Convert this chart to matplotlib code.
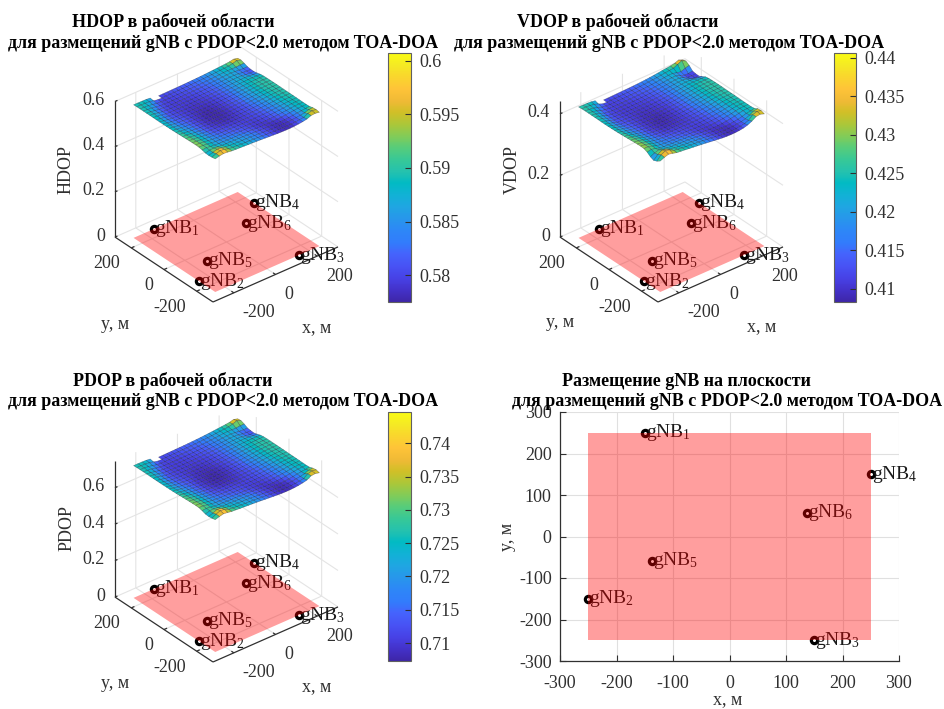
import numpy as np
import matplotlib
matplotlib.use("Agg")
import matplotlib.pyplot as plt
from matplotlib.colors import LinearSegmentedColormap, Normalize
from matplotlib.cm import ScalarMappable
from matplotlib.patches import Rectangle
from mpl_toolkits.mplot3d import art3d, proj3d

plt.rcParams['font.family'] = ['Liberation Serif', 'DejaVu Serif']
plt.rcParams['mathtext.fontset'] = 'custom'
plt.rcParams['mathtext.rm'] = 'Liberation Serif'
plt.rcParams['mathtext.default'] = 'rm'
plt.rcParams['grid.color'] = '#e4e4e4'
plt.rcParams['grid.linewidth'] = 0.8

W, H = 944, 709
n = np.nan

# grid of the working area
grid_x = list(range(-250, 251, 20))
grid_y = list(range(250, -251, -20))

# HDOP = 0.57 + value * 1e-4, rows follow grid_y, columns follow grid_x
hdop_rows = [
[190,190,188,182,165,n,102,104,107,110,113,116,119,123,128,134,141,150,160,172,184,196,208,224,262,222],
[196,194,188,172,140,105,98,100,103,106,109,112,116,120,125,131,138,147,158,170,182,194,206,240,292,236],
[198,190,178,150,118,102,97,98,100,102,105,108,111,115,120,126,133,142,153,165,176,182,178,175,190,190],
[198,186,165,134,110,99,96,96,97,99,101,104,107,111,116,122,129,138,149,160,170,172,160,140,128,130],
[198,184,155,124,106,97,95,94,95,96,98,100,103,107,112,118,126,135,146,157,166,168,155,128,112,112],
[198,182,148,118,104,97,94,93,93,94,95,97,100,104,109,115,124,134,146,157,166,170,160,135,115,108],
[196,178,142,114,103,97,94,92,91,91,92,94,97,101,106,113,122,133,146,158,168,175,175,165,150,140],
[194,172,138,112,104,98,94,91,89,88,89,91,94,98,104,111,120,131,146,159,170,180,186,186,184,180],
[194,168,136,114,106,100,95,90,87,86,86,88,91,96,102,109,118,130,145,158,170,182,190,194,196,195],
[195,168,138,118,110,103,95,89,85,83,83,85,89,94,100,108,117,129,144,158,170,183,192,198,200,198],
[196,170,142,124,114,105,95,88,83,81,80,82,86,92,99,107,116,128,143,157,170,183,192,198,200,200],
[198,172,148,130,118,106,95,87,82,79,78,80,84,90,98,106,115,127,142,156,168,182,192,198,200,200],
[200,176,154,136,122,108,96,87,82,78,77,79,83,89,97,105,113,125,140,154,166,180,190,197,200,200],
[205,184,162,142,126,110,97,88,82,79,78,80,84,90,97,104,112,123,137,151,163,178,188,196,198,198],
[210,192,170,150,130,112,99,90,84,81,80,81,85,91,97,103,110,120,133,147,160,175,186,194,197,197],
[216,200,180,158,135,116,103,94,88,85,84,84,87,91,96,102,108,117,129,142,155,170,183,192,196,196],
[222,208,188,165,140,121,108,100,94,91,90,89,90,93,97,101,106,114,125,137,150,165,180,190,195,195],
[228,214,194,170,146,127,115,107,102,99,97,95,94,95,97,100,105,112,122,133,146,160,176,187,193,193],
[232,220,198,174,150,133,123,116,111,107,103,100,97,96,96,98,103,109,118,129,142,156,172,184,191,191],
[236,224,200,176,154,140,131,124,119,115,110,105,100,96,94,95,99,105,114,125,138,152,168,182,189,190],
[230,226,200,176,156,146,139,133,128,123,117,110,103,96,91,91,95,101,110,121,134,148,165,180,188,188],
[200,218,194,172,160,155,150,146,142,136,128,120,110,100,92,87,86,90,98,110,124,140,158,176,184,186],
[160,205,215,190,178,170,165,160,155,150,142,132,120,108,98,90,85,83,85,92,105,122,145,165,178,195],
[150,200,262,240,200,186,178,170,163,156,148,137,125,112,100,90,84,81,83,90,102,120,140,165,225,235],
[165,240,295,275,215,198,188,178,170,162,152,142,130,116,104,92,85,80,82,88,100,116,140,235,270,250],
[190,235,265,245,218,208,198,188,178,168,158,146,134,120,108,96,88,84,85,92,108,130,165,240,255,222],
]

# VDOP = 0.40 + value * 1e-4
vdop_rows = [
[250,250,247,239,215,n,121,123,127,132,136,140,144,150,157,165,175,187,201,218,235,251,268,292,345,290],
[258,256,247,225,180,125,115,118,122,125,130,134,139,145,153,161,171,184,198,215,232,248,265,330,392,320],
[261,250,233,187,143,121,113,115,118,121,125,129,133,139,146,154,164,176,191,208,223,225,190,160,215,250],
[261,245,215,160,132,116,112,112,113,116,119,123,127,132,139,147,157,170,185,201,215,215,170,122,112,140],
[261,242,201,146,125,113,111,109,111,112,115,118,122,127,134,143,154,167,182,198,211,212,172,118,105,118],
[261,239,190,138,122,113,109,108,108,109,111,113,118,123,130,138,150,164,182,198,211,218,195,150,118,115],
[258,233,182,134,121,113,109,107,106,106,107,109,113,119,126,136,149,164,182,200,214,223,222,205,185,170],
[255,225,176,132,122,115,109,106,104,102,104,106,109,115,123,133,145,161,182,201,215,229,236,238,235,230],
[255,220,173,134,125,118,111,104,101,100,100,103,106,111,119,129,142,160,181,199,215,232,243,249,251,250],
[256,220,176,140,129,121,111,104,99,97,97,99,104,109,117,128,141,158,180,199,215,233,246,254,257,254],
[258,222,182,148,135,124,111,103,97,94,93,95,100,107,115,126,140,157,179,197,215,233,246,254,257,257],
[261,225,190,156,139,125,111,101,96,92,91,93,97,104,114,125,139,155,178,196,212,232,246,254,257,257],
[264,231,198,165,144,128,112,101,95,90,89,92,97,103,113,124,136,153,175,193,209,229,243,253,257,257],
[271,242,209,173,150,132,113,103,95,92,90,93,97,104,113,123,134,150,171,189,205,226,240,251,254,254],
[278,254,220,184,155,135,116,104,97,94,92,94,99,105,113,122,132,146,166,185,201,222,239,248,253,253],
[285,264,234,195,162,140,122,110,102,98,97,97,101,105,111,120,130,141,160,176,195,215,237,247,252,252],
[293,275,246,205,170,147,129,118,109,105,104,102,104,108,113,119,126,137,154,170,187,208,232,243,250,250],
[301,283,254,212,177,155,139,128,121,117,114,111,110,111,114,118,125,135,150,164,180,201,226,242,248,248],
[307,290,260,217,183,162,150,140,133,127,122,118,114,112,112,115,122,130,143,158,175,196,222,240,246,246],
[312,297,263,220,189,172,160,150,143,137,132,125,118,112,109,111,117,125,137,153,172,190,218,238,243,244],
[304,300,263,220,192,180,170,162,155,148,140,132,122,111,106,106,111,119,132,147,165,185,215,236,243,243],
[257,290,255,215,197,192,185,180,175,168,157,145,132,118,108,101,100,105,115,132,150,175,205,232,240,242],
[175,240,280,243,225,215,205,197,190,185,175,160,146,129,115,104,97,95,97,106,125,140,175,215,230,260],
[130,260,345,310,257,237,225,213,205,195,183,168,152,135,118,104,96,92,94,104,120,135,165,225,300,320],
[175,320,392,362,285,262,247,232,222,211,198,185,167,148,132,112,100,90,92,100,118,140,190,310,360,330],
[250,310,352,320,285,270,257,240,225,210,195,178,160,142,125,108,100,95,98,110,130,170,235,320,340,290],
]

# PDOP = 0.70 + value * 1e-4
pdop_rows = [
[258,258,255,245,218,n,117,121,126,129,134,139,143,150,158,168,179,194,210,229,249,268,287,313,374,310],
[268,265,255,229,178,121,113,113,118,123,129,134,139,145,153,161,174,187,205,224,242,261,282,337,421,329],
[271,258,239,194,140,116,108,113,113,116,121,126,129,137,145,153,166,179,197,216,235,244,237,232,258,258],
[271,252,218,169,129,111,106,108,108,111,113,118,123,129,137,145,158,172,189,208,224,226,207,174,156,158],
[271,249,202,150,121,108,105,105,105,107,110,113,118,124,132,142,153,169,185,203,218,221,200,156,132,132],
[271,245,191,140,119,108,105,103,103,105,105,110,113,119,126,137,150,166,185,203,218,226,210,166,134,121],
[268,239,182,134,118,108,105,102,100,100,102,105,110,116,124,134,148,166,185,205,221,233,233,218,194,178],
[265,229,176,131,119,110,105,100,97,95,97,100,105,111,121,132,147,163,185,206,224,240,250,250,247,242],
[265,223,173,134,123,113,105,97,94,92,92,95,100,108,118,129,145,162,184,205,224,243,258,265,268,266],
[266,223,176,140,129,118,105,95,90,87,87,90,97,105,113,126,142,160,182,205,224,245,261,271,274,271],
[268,226,182,150,134,121,105,94,87,84,81,84,90,100,113,124,140,158,181,203,224,245,261,271,274,274],
[271,229,191,158,140,122,105,92,85,79,78,81,87,97,111,122,139,156,179,202,221,243,261,271,274,274],
[274,236,201,168,147,126,106,92,85,78,76,79,86,95,110,121,135,153,176,198,218,240,258,269,274,274],
[282,249,214,178,153,129,108,94,85,79,78,81,87,97,110,119,132,150,171,194,213,237,255,268,271,271],
[290,262,226,190,161,132,111,97,87,84,81,84,89,98,110,118,129,145,166,190,208,234,252,265,269,269],
[300,274,242,203,169,139,118,103,95,89,87,87,92,98,108,116,126,140,159,179,201,226,248,263,268,268],
[310,287,255,214,177,147,126,113,105,100,97,95,97,102,108,115,123,135,153,172,194,218,242,258,266,266],
[319,297,265,222,186,157,137,126,118,113,111,108,107,108,111,116,124,134,150,166,187,210,237,255,263,263],
[326,306,271,229,193,168,150,139,131,124,119,113,108,107,107,110,118,127,143,159,181,203,231,250,260,260],
[332,313,274,232,199,174,162,150,142,135,129,121,113,107,103,105,111,121,135,153,174,197,226,247,258,258],
[322,316,274,232,202,186,173,165,156,147,137,126,116,107,99,99,105,115,129,148,169,192,221,245,255,255],
[274,303,266,226,208,202,194,187,180,170,158,145,129,113,100,92,90,97,110,129,153,179,208,237,250,253],
[210,282,290,258,239,226,218,210,202,194,182,166,147,126,110,97,89,86,89,100,121,150,187,221,242,266],
[194,274,376,339,274,250,239,226,214,204,190,174,153,134,115,97,87,82,86,97,116,145,178,221,318,334],
[218,339,429,397,298,274,258,242,229,216,200,184,166,145,123,100,89,81,84,94,113,139,178,337,392,361],
[258,329,382,350,310,295,274,258,242,226,210,190,168,148,129,108,94,87,89,100,126,160,215,345,370,314],
]

gnb_x = [-150, -250, 150, 250, -138, 138]
gnb_y = [250, -150, -250, 150, -58, 57]
gnb_labels = ['gNB$_1$', 'gNB$_2$', 'gNB$_3$', 'gNB$_4$', 'gNB$_5$', 'gNB$_6$']
area = 250

hdop_cticks = [0.58, 0.585, 0.59, 0.595, 0.6]
vdop_cticks = [0.41, 0.415, 0.42, 0.425, 0.43, 0.435, 0.44]
pdop_cticks = [0.71, 0.715, 0.72, 0.725, 0.73, 0.735, 0.74]
xy_ticks_3d = [-200, 0, 200]
xy_ticks_2d = [-300, -200, -100, 0, 100, 200, 300]

parula_anchor = [
(0.2422,0.1504,0.6603),(0.2647,0.1978,0.7952),(0.2783,0.2559,0.8991),(0.2810,0.3228,0.9579),
(0.2699,0.3892,0.9906),(0.1963,0.4847,0.9892),(0.1786,0.5289,0.9682),(0.1540,0.5902,0.9218),
(0.1248,0.6459,0.8883),(0.0689,0.6948,0.8394),(0.0067,0.7312,0.7660),(0.1408,0.7584,0.6842),
(0.2161,0.7843,0.5923),(0.3406,0.8008,0.4789),(0.5044,0.7993,0.3480),(0.6720,0.7793,0.2227),
(0.8203,0.7498,0.1535),(0.9393,0.7288,0.2100),(0.9970,0.7659,0.2199),(0.9786,0.8386,0.1766),
(0.9597,0.9135,0.1423),(0.9769,0.9839,0.0805)]
parula = LinearSegmentedColormap.from_list('parula', parula_anchor, N=256)

AX = '#303030'
FS = 13
LAB_FS = 14
fig = plt.figure(figsize=(W/100, H/100), dpi=100)


def ftext(x, y, s, **kw):
    kw.setdefault('ha', 'center')
    kw.setdefault('va', 'center')
    fig.text(x/W, 1-y/H, s, **kw)


def project(ax, x, y, z):
    X, Y, _ = proj3d.proj_transform(x, y, z, ax.get_proj())
    return ax.transData.transform((X, Y))


def panel3d(rows, base, cmin, cmax, zticks, zlabels, corner):
    size = 420
    ax = fig.add_axes([0.1, 0.1, size/W, size/H], projection='3d',
                      computed_zorder=False, proj_type='ortho')
    ax.patch.set_alpha(0)
    ax.view_init(elev=32.7, azim=-129.2)
    ax.set_xlim(-300, 300, view_margin=0)
    ax.set_ylim(-300, 300, view_margin=0)
    ax.set_zlim(0, cmax, view_margin=0)
    aspect = (1.04, 1, 1.04)
    ax.set_box_aspect(aspect, zoom=1)
    ax.apply_aspect()
    p0, p1 = project(ax, -300, -300, 0), project(ax, 300, -300, 0)
    ax.set_box_aspect(aspect, zoom=125/(p1[0]-p0[0]))
    p0 = project(ax, -300, -300, 0)
    bb = ax.get_position()
    ax.set_position([bb.x0+(corner[0]-p0[0])/W, bb.y0+(H-corner[1]-p0[1])/H, bb.width, bb.height])

    ax.set_xticks(xy_ticks_3d); ax.set_yticks(xy_ticks_3d); ax.set_zticks(zticks)
    ax.set_xticklabels(['']*3); ax.set_yticklabels(['']*3); ax.set_zticklabels(['']*len(zticks))
    for a in (ax.xaxis, ax.yaxis, ax.zaxis):
        a.set_pane_color((1, 1, 1, 0))
        a.pane.set_edgecolor((1, 1, 1, 0))
        a.line.set_visible(False)
        a._axinfo['tick']['inward_factor'] = 0
        a._axinfo['tick']['outward_factor'] = 0

    # axis lines and ticks
    line = dict(color=AX, lw=0.9, zorder=1, solid_capstyle='butt')
    ax.plot([-300, 300], [-300, -300], [0, 0], **line)
    ax.plot([-300, -300], [-300, 300], [0, 0], **line)
    ax.plot([-300, -300], [300, 300], [0, cmax], **line)
    for t in xy_ticks_3d:
        ax.plot([t, t], [-300, -285], [0, 0], **line)
        ax.plot([-300, -285], [t, t], [0, 0], **line)
    for t in zticks:
        ax.plot([-300, -288], [300, 300], [t, t], **line)

    # tick labels placed from the projected tick positions
    for t in xy_ticks_3d:
        ax.annotate(str(t), xy=ax.transData.inverted().transform(project(ax, t, -300, 0)),
                    xytext=(9, -20), textcoords='offset pixels', ha='left', va='center',
                    fontsize=FS, color=AX, annotation_clip=False)
        ax.annotate(str(t), xy=ax.transData.inverted().transform(project(ax, -300, t, 0)),
                    xytext=(-11, -16), textcoords='offset pixels', ha='right', va='center',
                    fontsize=FS, color=AX, annotation_clip=False)
    for t, lab in zip(zticks, zlabels):
        ax.annotate(lab, xy=ax.transData.inverted().transform(project(ax, -300, 300, t)),
                    xytext=(-10, 1), textcoords='offset pixels', ha='right', va='center',
                    fontsize=FS, color=AX, annotation_clip=False)

    # DOP surface
    Z = base + np.array(rows, dtype=float)*1e-4
    X, Y = np.meshgrid(grid_x, grid_y)
    norm = Normalize(cmin, cmax)
    polys, cols = [], []
    for i in range(Z.shape[0]-1):
        for j in range(Z.shape[1]-1):
            zz = [Z[i, j], Z[i, j+1], Z[i+1, j+1], Z[i+1, j]]
            if np.any(np.isnan(zz)):
                continue
            polys.append(list(zip([X[i, j], X[i, j+1], X[i+1, j+1], X[i+1, j]],
                                  [Y[i, j], Y[i, j+1], Y[i+1, j+1], Y[i+1, j]], zz)))
            cols.append(parula(norm(np.mean(zz))))
    surf = art3d.Poly3DCollection(polys, facecolors=cols, edgecolors=(0.05, 0.05, 0.12, 0.45),
                                  linewidths=0.35, zorder=2)
    surf.set_zsort('average')
    ax.add_collection3d(surf)

    # stations and their names, then the working area over them
    for gx, gy, lab in zip(gnb_x, gnb_y, gnb_labels):
        ax.plot([gx], [gy], [0], 'o', ms=4.5, mfc='none', mec='black', mew=2.3, zorder=3)
        ax.annotate(lab, xy=ax.transData.inverted().transform(project(ax, gx, gy, 0)),
                    xytext=(1, 0), textcoords='offset pixels', ha='left', va='center',
                    fontsize=LAB_FS, color='#1a1a1a', zorder=4, annotation_clip=False)
    a = area
    floor = art3d.Poly3DCollection([[(-a, -a, 0), (a, -a, 0), (a, a, 0), (-a, a, 0)]],
                                   facecolors=[(1, 0, 0, 0.38)], edgecolors='none', zorder=5)
    ax.add_collection3d(floor)
    return ax


def colorbar(x0, x1, y0, y1, cmin, cmax, ticks, labels):
    cax = fig.add_axes([x0/W, 1-y1/H, (x1-x0)/W, (y1-y0)/H])
    cb = fig.colorbar(ScalarMappable(Normalize(cmin, cmax), parula), cax=cax)
    cb.set_ticks(ticks, labels=labels)
    cb.minorticks_off()
    cax.tick_params(direction='in', length=4, width=0.8, pad=6, labelsize=FS, colors=AX)
    cb.outline.set_edgecolor('#606060')
    cb.outline.set_linewidth(0.8)


panel3d(hdop_rows, 0.57, 0.5775, 0.6007, [0, 0.2, 0.4, 0.6], ['0', '0.2', '0.4', '0.6'], (213, 302))
panel3d(vdop_rows, 0.40, 0.4083, 0.4406, [0, 0.2, 0.4], ['0', '0.2', '0.4'], (658, 302))
panel3d(pdop_rows, 0.70, 0.7073, 0.7447, [0, 0.2, 0.4, 0.6], ['0', '0.2', '0.4', '0.6'], (213, 662))

colorbar(388, 411, 53, 302, 0.5775, 0.6007, hdop_cticks, ['0.58', '0.585', '0.59', '0.595', '0.6'])
colorbar(834, 856, 53, 302, 0.4083, 0.4406, vdop_cticks, ['0.41', '0.415', '0.42', '0.425', '0.43', '0.435', '0.44'])
colorbar(388, 411, 412, 661, 0.7073, 0.7447, pdop_cticks, ['0.71', '0.715', '0.72', '0.725', '0.73', '0.735', '0.74'])

# plane view
ax4 = fig.add_axes([560/W, 1-661/H, 339/W, 249/H])
ax4.set_xlim(-300, 300); ax4.set_ylim(-300, 300)
ax4.set_xticks(xy_ticks_2d); ax4.set_yticks(xy_ticks_2d)
ax4.grid(True, color='#e0e0e0', lw=0.8)
ax4.set_axisbelow(True)
ax4.spines['top'].set_visible(False); ax4.spines['right'].set_visible(False)
for s in ('left', 'bottom'):
    ax4.spines[s].set_color(AX); ax4.spines[s].set_linewidth(0.9)
ax4.tick_params(direction='in', length=4, width=0.8, labelsize=FS, colors=AX, pad=6)
ax4.tick_params(axis='x', pad=10)
ax4.set_xticklabels([str(t) for t in xy_ticks_2d])
ax4.set_yticklabels([str(t) for t in xy_ticks_2d])
ax4.plot(gnb_x, gnb_y, 'o', ms=4.5, mfc='none', mec='black', mew=2.3, zorder=3, clip_on=False)
for gx, gy, lab in zip(gnb_x, gnb_y, gnb_labels):
    ax4.annotate(lab, xy=(gx, gy), xytext=(1, 0), textcoords='offset pixels', ha='left', va='center',
                 fontsize=LAB_FS, color='#1a1a1a', zorder=4, annotation_clip=False)
ax4.add_patch(Rectangle((-area, -area), 2*area, 2*area, facecolor=(1, 0, 0, 0.38), edgecolor='none', zorder=5))

# titles and axis names
T = dict(fontsize=13, fontweight='bold', color='black')
ftext(173, 22, 'HDOP в рабочей области', **T)
ftext(223, 44, 'для размещений gNB с PDOP<2.0 методом TOA-DOA', **T)
ftext(618, 22, 'VDOP в рабочей области', **T)
ftext(669, 44, 'для размещений gNB с PDOP<2.0 методом TOA-DOA', **T)
ftext(173, 381, 'PDOP в рабочей области', **T)
ftext(223, 402, 'для размещений gNB с PDOP<2.0 методом TOA-DOA', **T)
ftext(686, 381, 'Размещение gNB на плоскости', **T)
ftext(727, 401, 'для размещений gNB с PDOP<2.0 методом TOA-DOA', **T)

L = dict(fontsize=FS, color=AX)
ftext(66, 170, 'HDOP', rotation=90, **L)
ftext(512, 170, 'VDOP', rotation=90, **L)
ftext(67, 528, 'PDOP', rotation=90, **L)
ftext(115, 325, 'y, м', **L); ftext(317, 328, 'x, м', **L)
ftext(560, 323, 'y, м', **L); ftext(762, 327, 'x, м', **L)
ftext(115, 683, 'y, м', **L); ftext(317, 687, 'x, м', **L)
ftext(728, 700, 'x, м', **L)
ftext(508, 537, 'y, м', rotation=90, **L)

fig.savefig('out.png', dpi=100, facecolor='white')
